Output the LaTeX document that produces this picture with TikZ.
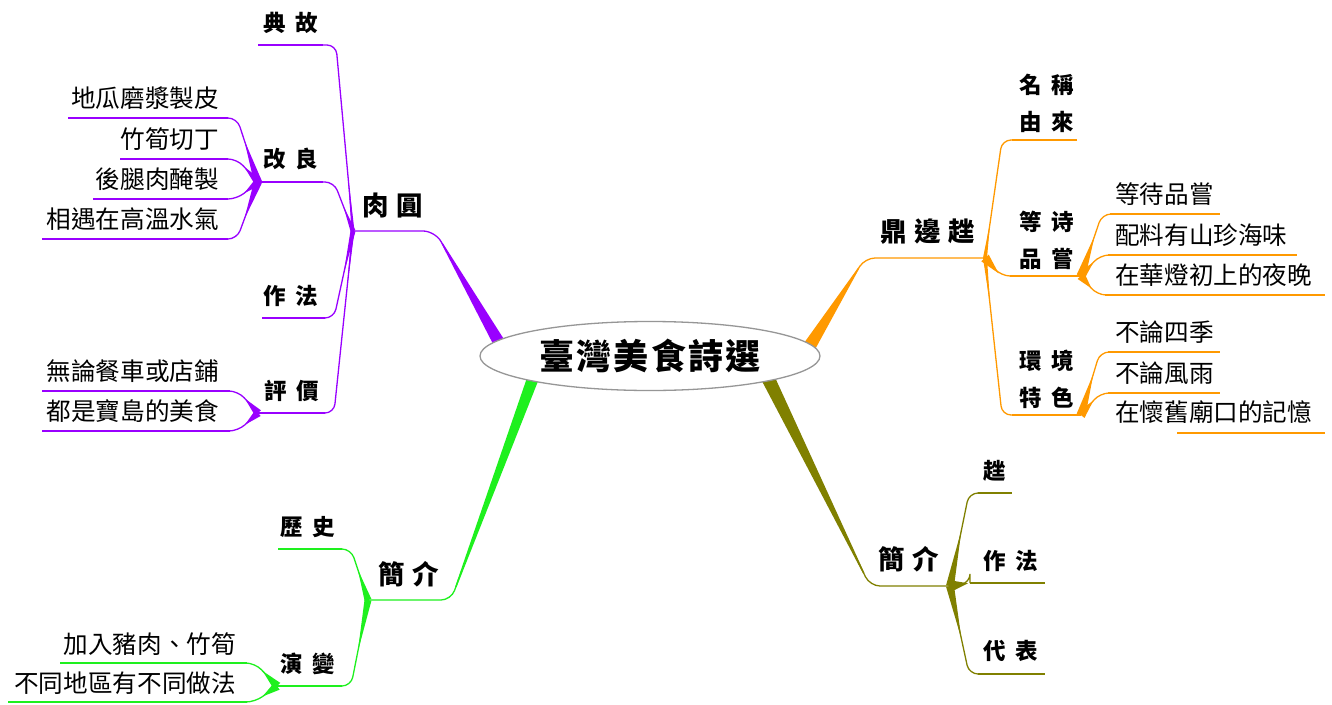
\documentclass[tikz,border=0pt]{standalone}
\usepackage{fontspec}
\usetikzlibrary{calc,shapes.geometric}
\setmainfont{Noto Sans CJK TC}
\newfontfamily\leaffnt{Noto Sans CJK TC}
\newfontfamily\subfnt[LetterSpace=42]{Noto Sans CJK TC}
\newfontfamily\mainfnt[LetterSpace=28]{Noto Sans CJK TC}
\newfontfamily\titlefnt[LetterSpace=6]{Noto Sans CJK TC}
\definecolor{cpur}{RGB}{153,0,255}
\definecolor{cora}{RGB}{255,153,0}
\definecolor{cgrn}{RGB}{30,240,30}
\definecolor{coli}{RGB}{128,128,0}
\definecolor{cgry}{RGB}{150,150,150}
% connector: color, end, corner, junction, half width, tip fraction
\newcommand\tconn[6]{%
  \draw[#1, conn] (#2) -- (#3) -- (#4);
  \fill[#1] ($(#4)!#5!90:(#3)$) -- ($(#4)!#6!(#3)$) -- ($(#4)!#5!-90:(#3)$) -- cycle;
}
% main branch: color, corner, inner end, half width
\newcommand\mbranch[4]{%
  \fill[#1] ($(#2)!0.7pt!90:(#3)$) -- ($(#3)!#4!-90:(#2)$) -- ($(#3)!#4!90:(#2)$) -- ($(#2)!0.7pt!-90:(#3)$) -- cycle;
}
\begin{document}
\begin{tikzpicture}[x=1pt,y=-1pt,
  conn/.style={line width=1.3pt, rounded corners=9pt},
  uline/.style={line width=1.5pt},
  lf/.style={inner sep=0pt, font=\leaffnt\fontsize{24.6}{26}\selectfont},
  sf/.style={inner sep=0pt, font=\subfnt\bfseries\fontsize{22.5}{37}\selectfont, align=left},
  mf/.style={inner sep=0pt, font=\mainfnt\bfseries\fontsize{26.5}{30}\selectfont}]
\useasboundingbox (0,0) rectangle (1332,704);
\fill[white] (0,0) rectangle (1332,704);

% ---------------- purple: 肉圓 ----------------
\coordinate (pJ) at (353,231);
\coordinate (pMe) at (435,231);
\coordinate (pB) at (505,353);
\draw[cpur, conn, rounded corners=12pt] (pJ) -- (pMe) -- (pB);
\mbranch{cpur}{$(pMe)!14pt!(pB)$}{pB}{6.5pt}
\node[mf, anchor=south west] (pM) at (362,218) {肉圓};

\coordinate (pA1) at (258,45); \coordinate (pA2) at (323,45); \coordinate (pAc) at (336,45);
\node[sf, anchor=south west] (pA) at (263,34) {典故};
\draw[cpur, uline] (pA1) -- (pA2);
\tconn{cpur}{pA2}{pAc}{pJ}{1.5pt}{0.3}

\coordinate (pBJ) at (258,182); \coordinate (pB2) at (323,182); \coordinate (pBc) at (334,182);
\node[sf, anchor=south west] (pBn) at (263,170) {改良};
\draw[cpur, uline] (pBJ) -- (pB2);
\tconn{cpur}{pB2}{pBc}{pJ}{2.5pt}{0.5}

\foreach \nm/\y/\xl/\txt in {b1/118/68/地瓜磨漿製皮, b2/159/120/竹筍切丁, b3/199/93/後腿肉醃製, b4/239/42/相遇在高溫水氣}{
  \coordinate (p\nm l) at (\xl,\y); \coordinate (p\nm r) at (228,\y); \coordinate (p\nm c) at (237,\y);
  \node[lf, anchor=south east] (p\nm) at (219,\y-8) {\txt};
  \draw[cpur, uline] (p\nm l) -- (p\nm r);
  \tconn{cpur}{p\nm r}{p\nm c}{pBJ}{4pt}{0.65}
}

\coordinate (pC1) at (262,318); \coordinate (pC2) at (325,318); \coordinate (pCc) at (334,318);
\node[sf, anchor=south west] (pCn) at (263,307) {作法};
\draw[cpur, uline] (pC1) -- (pC2);
\tconn{cpur}{pC2}{pCc}{pJ}{2.5pt}{0.5}

\coordinate (pDJ) at (258,413); \coordinate (pD2) at (325,413); \coordinate (pDc) at (334,413);
\node[sf, anchor=south west] (pDn) at (264,402) {評價};
\draw[cpur, uline] (pDJ) -- (pD2);
\tconn{cpur}{pD2}{pDc}{pJ}{1.5pt}{0.3}

\foreach \nm/\y/\txt in {d1/391/無論餐車或店鋪, d2/431/都是寶島的美食}{
  \coordinate (p\nm l) at (42,\y); \coordinate (p\nm r) at (230,\y); \coordinate (p\nm c) at (238,\y);
  \node[lf, anchor=south east] (p\nm) at (219,\y-8) {\txt};
  \draw[cpur, uline] (p\nm l) -- (p\nm r);
  \tconn{cpur}{p\nm r}{p\nm c}{pDJ}{4pt}{0.65}
}

% ---------------- green: 簡介 ----------------
\coordinate (gJ) at (368,600);
\coordinate (gMe) at (451,600);
\coordinate (gB) at (536,370);
\draw[cgrn, conn, rounded corners=10pt] (gJ) -- (gMe) -- (gB);
\mbranch{cgrn}{$(gMe)!14pt!(gB)$}{gB}{6pt}
\node[mf, anchor=south west] (gM) at (378,587) {簡介};

\coordinate (gA1) at (278,549); \coordinate (gA2) at (342,549); \coordinate (gAc) at (351,549);
\node[sf, anchor=south west] (gA) at (280,538) {歷史};
\draw[cgrn, uline] (gA1) -- (gA2);
\tconn{cgrn}{gA2}{gAc}{gJ}{3.5pt}{0.6}

\coordinate (gBJ) at (277,686); \coordinate (gB2) at (342,686); \coordinate (gBc) at (351,686);
\node[sf, anchor=south west] (gBn) at (280,675) {演變};
\draw[cgrn, uline] (gBJ) -- (gB2);
\tconn{cgrn}{gB2}{gBc}{gJ}{3.5pt}{0.6}

\foreach \nm/\y/\xl/\txt in {b1/663/60/加入豬肉、竹筍, b2/702/8/不同地區有不同做法}{
  \coordinate (g\nm l) at (\xl,\y); \coordinate (g\nm r) at (247,\y); \coordinate (g\nm c) at (255,\y);
  \node[lf, anchor=south east] (g\nm) at (236,\y-7) {\txt};
  \draw[cgrn, uline] (g\nm l) -- (g\nm r);
  \tconn{cgrn}{g\nm r}{g\nm c}{gBJ}{4.5pt}{0.65}
}

% ---------------- orange: 鼎邊趖 ----------------
\coordinate (oJ) at (985,258);
\coordinate (oMe) at (865,258);
\coordinate (oB) at (804,355);
\draw[cora, conn, rounded corners=10pt] (oJ) -- (oMe) -- (oB);
\mbranch{cora}{$(oMe)!12pt!(oB)$}{oB}{7pt}
\node[mf, anchor=south west] (oM) at (880,245) {鼎邊趖};

\coordinate (oA1) at (1012,140); \coordinate (oA2) at (1077,140); \coordinate (oAc) at (1002,140);
\node[sf, anchor=south west] (oA) at (1019,133) {名稱\\由來};
\draw[cora, uline] (oA1) -- (oA2);
\tconn{cora}{oA1}{oAc}{oJ}{2pt}{0.3}

\coordinate (oB1) at (1010,276); \coordinate (oBJ) at (1081,276); \coordinate (oBc) at (1001,276);
\node[sf, anchor=south west] (oBn) at (1019,270) {等诗\\品嘗};
\draw[cora, uline] (oB1) -- (oBJ);
\tconn{cora}{oB1}{oBc}{oJ}{5pt}{0.85}

\coordinate (oC1) at (1012,415); \coordinate (oCJ) at (1081,415); \coordinate (oCc) at (1002,415);
\node[sf, anchor=south west] (oCn) at (1019,409) {環境\\特色};
\draw[cora, uline] (oC1) -- (oCJ);
\tconn{cora}{oC1}{oCc}{oJ}{2pt}{0.3}

\foreach \nm/\y/\xl/\xr/\txt in {b1/214/1110/1220/等待品嘗, b2/255/1108/1297/配料有山珍海味, b3/295/1105/1325/在華燈初上的夜晚}{
  \coordinate (o\nm l) at (\xl,\y); \coordinate (o\nm r) at (\xr,\y); \coordinate (o\nm c) at (\xl-8,\y);
  \node[lf, anchor=south west] (o\nm) at (1115,\y-8) {\txt};
  \draw[cora, uline] (o\nm l) -- (o\nm r);
  \tconn{cora}{o\nm l}{o\nm c}{oBJ}{4.5pt}{0.65}
}
\foreach \nm/\y/\txt in {c1/352/不論四季, c2/393/不論風雨}{
  \coordinate (o\nm l) at (1108,\y); \coordinate (o\nm r) at (1220,\y); \coordinate (o\nm c) at (1100,\y);
  \node[lf, anchor=south west] (o\nm) at (1115,\y-8) {\txt};
  \draw[cora, uline] (o\nm l) -- (o\nm r);
  \tconn{cora}{o\nm l}{o\nm c}{oCJ}{4.5pt}{0.65}
}
\coordinate (oc3l) at (1177,433); \coordinate (oc3r) at (1325,433);
\node[lf, anchor=south west] (oc3) at (1115,424) {在懷舊廟口的記憶};
\draw[cora, uline] (oc3l) -- (oc3r);

% ---------------- olive: 簡介 ----------------
\coordinate (vJ) at (950,586);
\coordinate (vMe) at (870,586);
\coordinate (vB) at (763,368);
\draw[coli, conn, rounded corners=10pt] (vJ) -- (vMe) -- (vB);
\mbranch{coli}{$(vMe)!14pt!(vB)$}{vB}{7pt}
\node[mf, anchor=south west] (vM) at (878,572) {簡介};

\coordinate (vA1) at (978,493); \coordinate (vA2) at (1012,493); \coordinate (vAc) at (969,493);
\node[sf, anchor=south west] (vA) at (983,482) {趖};
\draw[coli, uline] (vA1) -- (vA2);
\tconn{coli}{vA1}{vAc}{vJ}{4pt}{0.6}

\coordinate (vB1) at (970,583); \coordinate (vB2) at (1045,583);
\node[sf, anchor=south west] (vBn) at (983,572) {作法};
\draw[coli, uline] (vB1) -- (vB2);
\tconn{coli}{vB1}{vB1}{vJ}{6pt}{0.9}

\coordinate (vC1) at (978,674); \coordinate (vC2) at (1045,674); \coordinate (vCc) at (969,674);
\node[sf, anchor=south west] (vC) at (983,662) {代表};
\draw[coli, uline] (vC1) -- (vC2);
\tconn{coli}{vC1}{vCc}{vJ}{4pt}{0.6}

% ---------------- centre ----------------
\node[ellipse, draw=cgry, line width=1.3pt, fill=white, minimum width=340pt, minimum height=69pt,
      inner sep=0pt, font=\titlefnt\bfseries\fontsize{35}{38}\selectfont] (root) at (650,356) {臺灣美食詩選};
\end{tikzpicture}
\end{document}
